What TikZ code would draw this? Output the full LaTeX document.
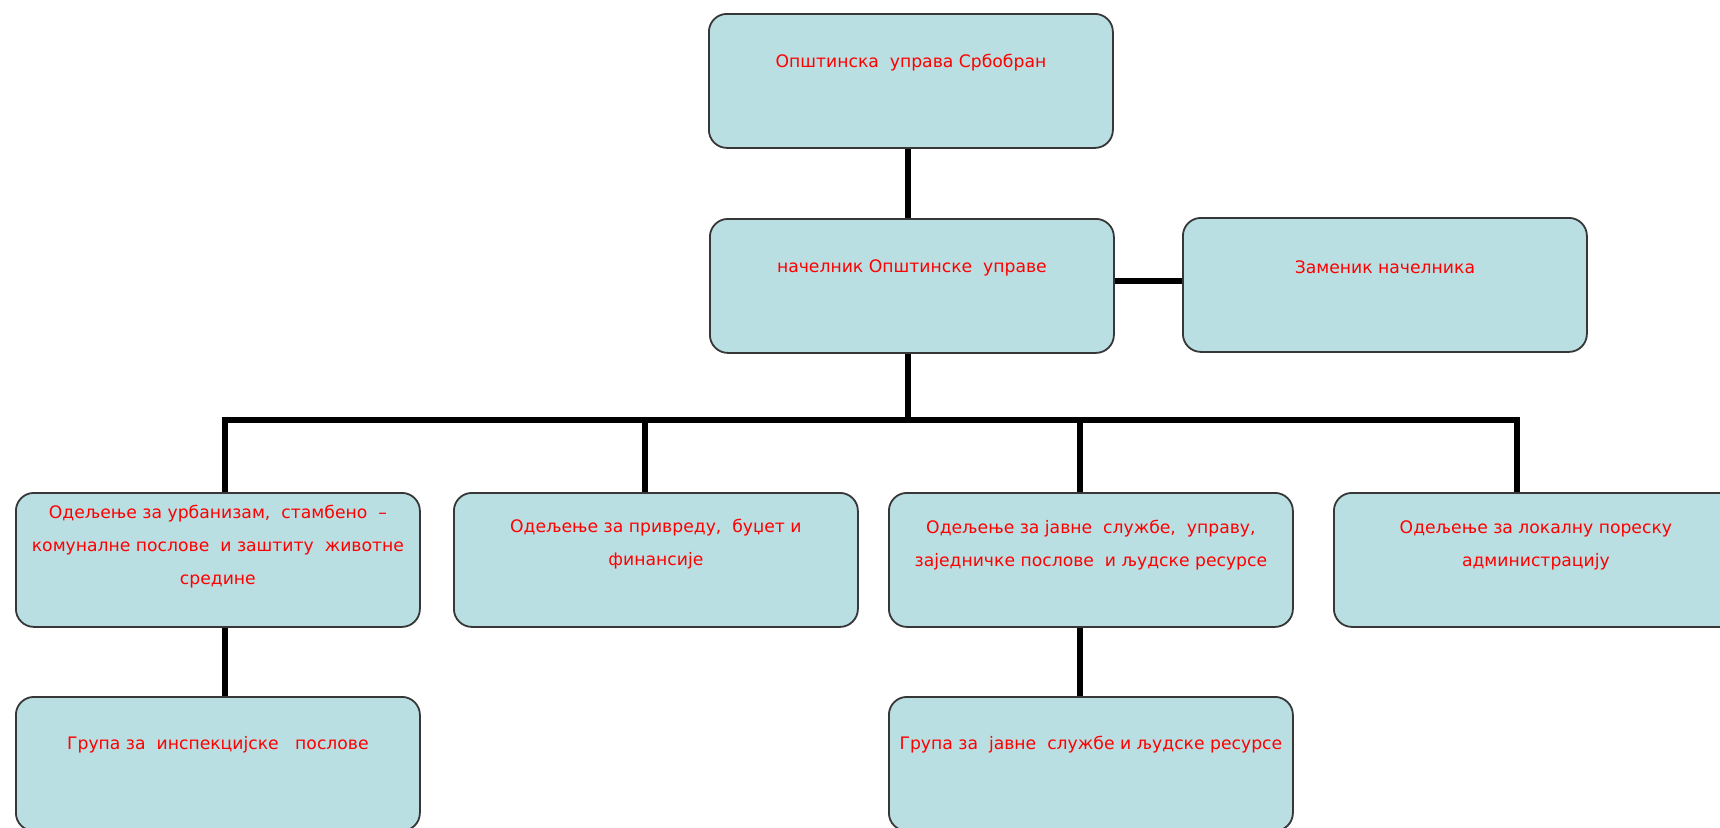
\documentclass[tikz,border=0pt]{standalone}
\usepackage{fontspec}
\setmainfont{DejaVu Sans}
\definecolor{boxfill}{RGB}{186,223,227}
\definecolor{boxline}{RGB}{55,55,55}
\definecolor{txtred}{RGB}{255,0,0}
\begin{document}
\begin{tikzpicture}[x=0.5pt,y=-0.5pt,
  orgbox/.style={draw=boxline, line width=0.9pt, fill=boxfill, rounded corners=9pt,
    minimum width=202pt, minimum height=67pt, inner sep=0pt, anchor=north west},
  orgtxt/.style={text=txtred, font=\fontsize{8.6pt}{16.5pt}\selectfont, align=center, inner sep=0pt},
  conn/.style={line width=3pt, black}]
\useasboundingbox (0,0) rectangle (1720,827);
% boxes
\node[orgbox] (top) at (708,13) {};
\node[orgbox] (nach) at (709,218) {};
\node[orgbox] (zam) at (1182,217) {};
\node[orgbox] (d1) at (15,492) {};
\node[orgbox] (d2) at (453,492) {};
\node[orgbox] (d3) at (888,492) {};
\node[orgbox] (d4) at (1333,492) {};
\node[orgbox] (g1) at (15,696) {};
\node[orgbox] (g3) at (888,696) {};
% texts
\node[orgtxt] (ttop) at ([yshift=-25pt]top.north) {Општинска\ \ управа Србобран};
\node[orgtxt] (tnach) at ([yshift=-25pt]nach.north) {начелник Општинске\ \ управе};
\node[orgtxt] (tzam) at ([yshift=-25pt]zam.north) {Заменик начелника};
\node[orgtxt] (td1) at ([yshift=-27.5pt]d1.north) {Одељење за урбанизам,\ \ стамбено\ \ –\\комуналне послове\ \ и заштиту\ \ животне\\средине};
\node[orgtxt] (td2) at ([yshift=-26pt]d2.north) {Одељење за привреду,\ \ буџет и\\финансије};
\node[orgtxt] (td3) at ([yshift=-26.5pt]d3.north) {Одељење за јавне\ \ службе,\ \ управу,\\заједничке послове\ \ и људске ресурсе};
\node[orgtxt] (td4) at ([yshift=-26.5pt]d4.north) {Одељење за локалну пореску\\администрацију};
\node[orgtxt] (tg1) at ([yshift=-24.5pt]g1.north) {Група за\ \ инспекцијске\ \ \ послове};
\node[orgtxt] (tg3) at ([yshift=-24.5pt]g3.north) {Група за\ \ јавне\ \ службе и људске ресурсе};
% bus coordinates
\coordinate (bus) at (908,420);
\coordinate (b1) at (225,420);
\coordinate (b2) at (645,420);
\coordinate (b3) at (1080,420);
\coordinate (b4) at (1517,420);
% connectors
\draw[conn] (top.south -| bus) -- (nach.north -| bus);
\draw[conn] ([yshift=2.5pt]nach.east) -- ([yshift=2.5pt]nach.east -| zam.west);
\draw[conn] (nach.south -| bus) -- (bus);
\draw[conn, line cap=rect] (b1) -- (b4);
\draw[conn] (b1) -- (b1 |- d1.north);
\draw[conn] (b2) -- (b2 |- d2.north);
\draw[conn] (b3) -- (b3 |- d3.north);
\draw[conn] (b4) -- (b4 |- d4.north);
\draw[conn] (b1 |- d1.south) -- (b1 |- g1.north);
\draw[conn] (b3 |- d3.south) -- (b3 |- g3.north);
\end{tikzpicture}
\end{document}
